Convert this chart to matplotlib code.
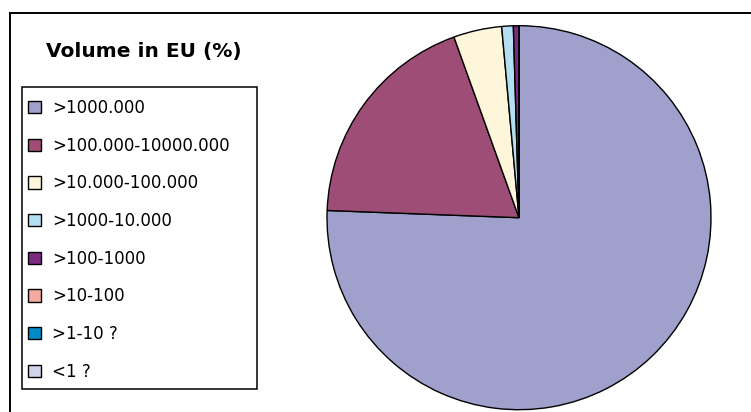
import matplotlib
matplotlib.use("Agg")
from matplotlib import pyplot as plt
from matplotlib.patches import Rectangle
from matplotlib.lines import Line2D

labels = [">1000.000", ">100.000-10000.000", ">10.000-100.000", ">1000-10.000",
          ">100-1000", ">10-100", ">1-10 ?", "<1 ?"]
shares = [75.6, 18.9, 4.06, 0.97, 0.47, 0.0, 0.0, 0.0]
colors = ["#a0a0cc", "#9e4d76", "#fdf6da", "#b4dff0", "#7b2a80", "#f4aaa0", "#008cc8", "#d2d2e8"]
title = "Volume in EU (%)"

W, H = 751, 412
fig = plt.figure(figsize=(W / 100, H / 100), dpi=100)

# frame lines (top and left only)
fig.add_artist(Line2D([9.5 / W, 1], [1 - 12.5 / H, 1 - 12.5 / H], color="black", lw=1.4,
                      transform=fig.transFigure))
fig.add_artist(Line2D([9.5 / W, 9.5 / W], [0, 1 - 12.5 / H], color="black", lw=1.4,
                      transform=fig.transFigure))

# pie
ax = fig.add_axes([327 / W, (H - 409.7) / H, 384 / W, 384 / H])
wedges, _ = ax.pie(shares, colors=colors, startangle=90, counterclock=False,
                   wedgeprops=dict(edgecolor="black", linewidth=1.0, clip_on=False))
ax.set_xlim(-1, 1)
ax.set_ylim(-1, 1)
ax.set_aspect("equal")
ax.axis("off")

# title
fig.text(144 / W, 1 - 51 / H, title, ha="center", va="center", fontsize=14.5,
         fontweight="bold", family="DejaVu Sans")

# legend box
fig.add_artist(Rectangle((21.5 / W, 1 - 389 / H), 235 / W, 302 / H, fill=False,
                         edgecolor="black", lw=1.1, transform=fig.transFigure))
leg = fig.legend(wedges, labels, loc="upper left",
                 bbox_to_anchor=(28 / W, 1 - 99 / H), frameon=False,
                 borderpad=0, borderaxespad=0, handlelength=0.75, handleheight=0.75,
                 handletextpad=0.7, labelspacing=1.18, prop=dict(family="DejaVu Sans", size=12))

fig.savefig("out.png", dpi=100)
